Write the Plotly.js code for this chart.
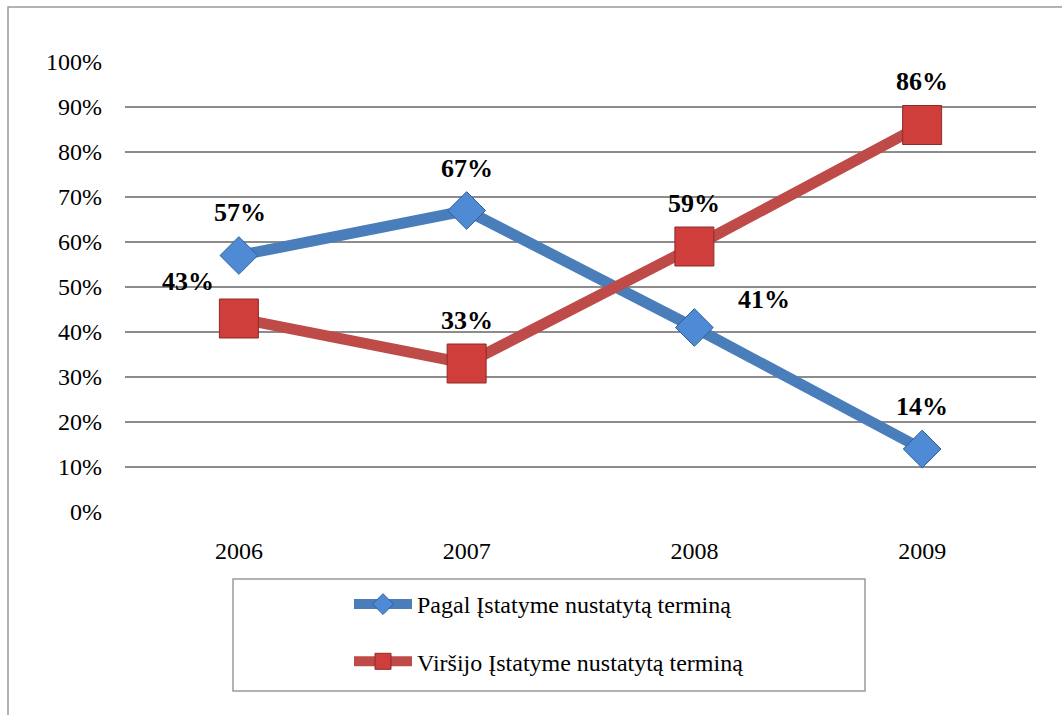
<!DOCTYPE html>
<html>
<head>
<meta charset="utf-8">
<script src="https://cdn.plot.ly/plotly-3.0.1.min.js"></script>
<style>
  body { margin: 0; background: #fff; }
  #chart { width: 1062px; height: 715px; }
</style>
</head>
<body>
<div id="chart"></div>
<script>
// values
const years = ['2006', '2007', '2008', '2009'];
const pagal = [0.57, 0.67, 0.41, 0.14];
const virsijo = [0.43, 0.33, 0.59, 0.86];
const pagalName = 'Pagal Įstatyme nustatytą terminą';
const virsijoName = 'Viršijo Įstatyme nustatytą terminą';

// label offsets in px (centre of text relative to the point)
const pagalShift = [[1, 43], [0, 42], [70, 28], [0, 43]];
const virsijoShift = [[-51, 37], [0, 43], [0, 43], [0, 44]];

const FONT = 'Liberation Serif';
const BLUE = '#4a7ebb';
const RED = '#be4b48';

// plot area in px: x 125..1036, y 62..512
const L = 125, R = 1036, T = 62, B = 512;
const px = x => (x - L) / (R - L);
const py = y => (B - y) / (B - T);

let traces = [{
    x: years, y: pagal,
    type: 'scatter', mode: 'lines+markers',
    name: pagalName, legendgroup: 'a',
    line: {color: BLUE, width: 11},
    marker: {symbol: 'diamond', size: 29, color: '#4f8ad4',
        line: {color: '#2f5f9c', width: 1}}
}, {
    x: years, y: virsijo,
    type: 'scatter', mode: 'lines+markers',
    name: virsijoName, legendgroup: 'b',
    line: {color: RED, width: 11},
    marker: {symbol: 'square', size: 39, color: '#cf3e3b',
        line: {color: '#8e2a28', width: 1}}
}];

let annotations = [];
function addLabels(vals, shifts) {
    vals.forEach((v, i) => {
        annotations.push({
            x: i, y: v, xref: 'x', yref: 'y',
            text: '<b>' + Math.round(v * 100) + '%</b>',
            showarrow: false,
            xshift: shifts[i][0], yshift: shifts[i][1],
            font: {family: FONT, size: 26, color: '#000'}
        });
    });
}
addLabels(pagal, pagalShift);
addLabels(virsijo, virsijoShift);

let shapes = [{
    // outer frame, left and top edge only
    type: 'path', xref: 'paper', yref: 'paper', layer: 'below',
    path: 'M ' + px(8) + ',' + py(716) + ' L ' + px(8) + ',' + py(7) + ' L ' + px(1070) + ',' + py(7),
    line: {color: '#9a9a9a', width: 1.5}
}, {
    // legend box
    type: 'rect', xref: 'paper', yref: 'paper', layer: 'below',
    x0: px(233), x1: px(865), y0: py(691), y1: py(579),
    line: {color: '#9a9a9a', width: 1.5}
}];

let layout = {
    width: 1062, height: 715,
    margin: {l: L, r: 1062 - R, t: T, b: 715 - B},
    paper_bgcolor: '#fff', plot_bgcolor: '#fff',
    font: {family: FONT, size: 24, color: '#000'},
    showlegend: true,
    legend: {
        x: px(349), xanchor: 'left',
        y: py(582), yanchor: 'top',
        orientation: 'v',
        traceorder: 'grouped',
        tracegroupgap: 23,
        itemwidth: 58,
        bgcolor: 'rgba(0,0,0,0)',
        borderwidth: 0,
        font: {family: FONT, size: 24, color: '#000'}
    },
    xaxis: {
        type: 'category',
        range: [-0.5, 3.5],
        showgrid: false, zeroline: false, showline: false,
        ticks: '',
        ticklabelstandoff: 22,
        tickfont: {family: FONT, size: 24}
    },
    yaxis: {
        range: [0, 1],
        dtick: 0.1,
        tickformat: '.0%',
        showgrid: true, gridcolor: '#8c8c8c', gridwidth: 1.4,
        zeroline: false, showline: false,
        ticks: '',
        ticklabelstandoff: 22,
        tickfont: {family: FONT, size: 24}
    },
    shapes: shapes,
    annotations: annotations,
    hovermode: false
};

Plotly.newPlot('chart', traces, layout, {displayModeBar: false, staticPlot: true});
</script>
</body>
</html>
